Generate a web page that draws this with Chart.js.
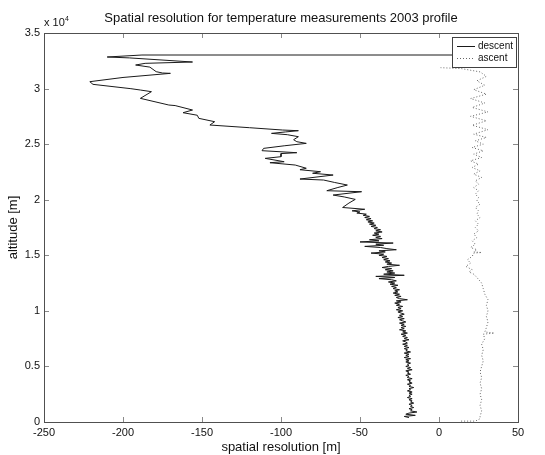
<!DOCTYPE html>
<html>
<head>
<meta charset="utf-8">
<script src="https://cdn.jsdelivr.net/npm/chart.js@4.4.0/dist/chart.umd.min.js"></script>
<style>
  html, body { margin: 0; padding: 0; background: #fff; }
  canvas { display: block; }
</style>
</head>
<body>
<canvas id="profileChart" width="545" height="455"></canvas>
<script>
// descent profile (top -> bottom)
const descentAlt = [
  33020, 33020, 32840, 32760, 32390, 32270, 32120, 31930, 31520, 31400,
  31370, 31000, 30620, 30380, 29990, 29870, 29720, 29120, 28520, 28470,
  28070, 27830, 27600, 27320, 27020, 26720, 26480, 26270, 26210, 26100,
  25970, 25850, 25670, 25400, 25220, 25070, 24850, 24620, 24410, 24230,
  24150, 23870, 23720, 23420, 23330, 23120, 22830, 22700, 22520, 22380,
  22220, 21860, 21770, 21550, 21320, 21100, 20810, 20720, 20420, 20250,
  20030, 19700, 19300, 19140,
  19000, 18900, 18800, 18700, 18600, 18500, 18400, 18300, 18200, 18100,
  18000, 17900, 17800, 17700, 17600, 17500, 17400, 17300, 17200, 17100,
  17000, 16900, 16800, 16700, 16600, 16500, 16400, 16300, 16200, 16100,
  16000, 15900, 15800, 15700, 15600, 15500, 15400, 15300, 15200, 15100,
  15000, 14900, 14800, 14700, 14600, 14500, 14400, 14300, 14200, 14100,
  14000, 13900, 13800, 13700, 13600, 13500, 13400, 13300, 13200, 13100,
  13000, 12900, 12800, 12700, 12600, 12500, 12400, 12300, 12200, 12100,
  12000, 11900, 11800, 11700, 11600, 11500, 11400, 11300, 11200, 11100,
  11000, 10900, 10800, 10700, 10600, 10500, 10400, 10300, 10200, 10100,
  10000, 9900, 9800, 9700, 9600, 9500, 9400, 9300, 9200, 9100,
  9000, 8900, 8800, 8700, 8600, 8500, 8400, 8300, 8200, 8100,
  8000, 7900, 7800, 7700, 7600, 7500, 7400, 7300, 7200, 7100,
  7000, 6900, 6800, 6700, 6600, 6500, 6400, 6300, 6200, 6100,
  6000, 5900, 5800, 5700, 5600, 5500, 5400, 5300, 5200, 5100,
  5000, 4900, 4800, 4700, 4600, 4500, 4400, 4300, 4200, 4100,
  4000, 3900, 3800, 3700, 3600, 3500, 3400, 3300, 3200, 3100,
  3000, 2900, 2800, 2700, 2600, 2500, 2400, 2300, 2200, 2100,
  2000, 1900, 1800, 1700, 1600, 1500, 1400, 1300, 1200, 1100,
  1000, 900, 800, 700, 600, 500, 400
];
const descentRes = [
  30, -188, -210, -196, -156, -186, -192, -183, -179, -175,
  -170, -200, -221, -219, -195, -189, -182, -189, -171, -167,
  -156, -162, -153, -152, -142, -145, -120, -99, -89, -97,
  -106, -96, -89, -92, -90, -84, -98, -111, -112, -90,
  -100, -100, -110, -98, -107, -91, -84, -88, -75, -80,
  -67, -88, -73, -66, -58, -64, -71, -49, -67, -60,
  -53, -57, -61, -47,
  -55, -50, -52, -46, -48, -44, -47, -43, -46, -42,
  -45, -41, -44, -40, -43, -39, -41, -37, -40, -36,
  -41, -38, -42, -37, -40, -36, -44, -38, -50, -29,
  -40, -35, -47, -37, -33, -27, -38, -34, -43, -35,
  -38, -33, -36, -32, -35, -31, -34, -30, -33, -25,
  -32, -36, -30, -34, -29, -33, -28, -35, -22, -40,
  -28, -38, -30, -27, -32, -28, -31, -26, -30, -27,
  -29, -25, -28, -26, -29, -25, -28, -24, -27, -25,
  -20, -27, -24, -28, -25, -27, -23, -26, -24, -27,
  -23, -26, -24, -22, -25, -23, -26, -22, -25, -23,
  -21, -25, -22, -24, -21, -24, -22, -25, -21, -23,
  -20, -24, -21, -23, -20, -22, -19, -23, -21, -20,
  -23, -20, -22, -19, -22, -20, -21, -18, -22, -19,
  -21, -19, -22, -18, -21, -19, -21, -18, -20, -19,
  -21, -18, -20, -17, -21, -19, -20, -18, -21, -19,
  -20, -17, -20, -18, -19, -17, -20, -18, -19, -16,
  -19, -18, -20, -17, -19, -17, -19, -18, -20, -17,
  -19, -17, -18, -16, -19, -17, -18, -16, -19, -17,
  -18, -14, -19, -21, -15, -22, -19
];

// ascent profile (bottom -> top)
const ascentAlt = [
  80, 80, 300, 500, 1000, 1500, 2000, 2500, 3000, 3500,
  4000, 4500, 5000, 5500, 6000, 6500, 7000, 7500, 7900, 8000,
  8100, 8500, 9000, 9500, 10000, 10500, 11000, 11500, 12000, 12500,
  13000, 13300, 13500, 13700, 14000, 14300, 14600, 14900, 15200, 15250,
  15300, 15500, 15700, 16000, 16300, 16600, 16900, 17200, 17500, 17800,
  18100, 18400, 18700, 19000, 19300, 19600, 19900, 20200, 20500, 20800,
  21100, 21400, 21700, 22000, 22300, 22600, 22900, 23200, 23500, 23800,
  24100, 24400, 24700, 25000, 25300, 25600, 25900, 26300, 26700, 27100,
  27500, 27900, 28300, 28700, 29100, 29500, 29900, 30300, 30700, 31100,
  31500, 31800, 31880
];
const ascentRes = [
  14, 23, 26, 26, 27, 26, 27, 26, 27, 26,
  27, 26, 27, 28, 27, 28, 27, 29, 28, 35,
  29, 30, 31, 30, 31, 30, 31, 29, 28, 27,
  24, 22, 19, 21, 17, 20, 18, 21, 22, 27,
  22, 24, 20, 23, 21, 24, 22, 25, 23, 25,
  23, 26, 24, 25, 23, 26, 24, 25, 23, 25,
  22, 25, 23, 27, 22, 26, 21, 25, 20, 27,
  22, 28, 21, 28, 23, 30, 22, 31, 21, 30,
  20, 31, 21, 29, 20, 30, 22, 29, 24, 30,
  26, 14, 1
];

const xTicks = [-250, -200, -150, -100, -50, 0, 50];
const yTicks = [0, 5000, 10000, 15000, 20000, 25000, 30000, 35000];

const FONT = '"Liberation Sans", Arial, Helvetica, sans-serif';

const descentPts = descentAlt.map((a, i) => ({ x: descentRes[i], y: a }));
const ascentPts = ascentAlt.map((a, i) => ({ x: ascentRes[i], y: a }));

// MATLAB-like frame: box, inward ticks on all sides, legend, exponent label
const matlabFrame = {
  id: 'matlabFrame',
  afterDatasetsDraw(chart) {
    const { ctx, chartArea: ca, scales } = chart;
    ctx.save();
    ctx.lineWidth = 1;
    ctx.strokeStyle = '#8a8a8a';
    ctx.beginPath();
    xTicks.forEach(v => {
      const px = Math.round(scales.x.getPixelForValue(v)) + 0.5;
      ctx.moveTo(px, ca.bottom); ctx.lineTo(px, ca.bottom - 5);
      ctx.moveTo(px, ca.top); ctx.lineTo(px, ca.top + 5);
    });
    yTicks.forEach(v => {
      const py = Math.round(scales.y.getPixelForValue(v)) + 0.5;
      ctx.moveTo(ca.left, py); ctx.lineTo(ca.left + 5, py);
      ctx.moveTo(ca.right, py); ctx.lineTo(ca.right - 5, py);
    });
    ctx.stroke();

    ctx.strokeStyle = '#505050';
    ctx.strokeRect(Math.round(ca.left) + 0.5, Math.round(ca.top) + 0.5,
      Math.round(ca.right - ca.left), Math.round(ca.bottom - ca.top));

    // legend box
    const lx = 452, ly = 37, lw = 64, lh = 30;
    ctx.fillStyle = '#fff';
    ctx.fillRect(lx, ly, lw, lh);
    ctx.strokeStyle = '#404040';
    ctx.strokeRect(lx + 0.5, ly + 0.5, lw, lh);
    chart.data.datasets.forEach((ds, i) => {
      const y = ly + 9.5 + i * 12;
      ctx.strokeStyle = ds.borderColor;
      ctx.setLineDash(ds.borderDash || []);
      ctx.beginPath();
      ctx.moveTo(lx + 5, y); ctx.lineTo(lx + 23, y);
      ctx.stroke();
      ctx.setLineDash([]);
      ctx.fillStyle = '#111';
      ctx.font = '10px ' + FONT;
      ctx.textBaseline = 'middle';
      ctx.textAlign = 'left';
      ctx.fillText(ds.label, lx + 26, y);
    });

    // exponent label above the y axis
    ctx.fillStyle = '#111';
    ctx.textBaseline = 'alphabetic';
    ctx.font = '11px ' + FONT;
    ctx.fillText('x 10', ca.left, ca.top - 7);
    ctx.font = '7px ' + FONT;
    ctx.fillText('4', ca.left + 21, ca.top - 12);
    ctx.restore();
  }
};

new Chart(document.getElementById('profileChart'), {
  type: 'scatter',
  data: {
    datasets: [
      {
        label: 'descent',
        data: descentPts,
        showLine: true,
        borderColor: '#1a1a1a',
        borderWidth: 1,
        pointRadius: 0,
        tension: 0
      },
      {
        label: 'ascent',
        data: ascentPts,
        showLine: true,
        borderColor: '#666',
        borderWidth: 1,
        borderDash: [1, 2],
        pointRadius: 0,
        tension: 0
      }
    ]
  },
  options: {
    responsive: false,
    animation: false,
    devicePixelRatio: 1,
    layout: { padding: { left: 0, right: 27, top: 0, bottom: 0 } },
    plugins: {
      legend: { display: false },
      tooltip: { enabled: false },
      title: {
        display: true,
        text: 'Spatial resolution for temperature measurements 2003 profile',
        fullSize: false,
        color: '#111',
        font: { family: FONT, size: 13, weight: 'normal' },
        padding: { top: 11, bottom: 6.4 }
      }
    },
    scales: {
      x: {
        type: 'linear',
        min: -250,
        max: 50,
        afterBuildTicks: scale => { scale.ticks = xTicks.map(v => ({ value: v })); },
        afterFit: scale => { scale.height = 33; },
        grid: { display: false, drawTicks: false },
        border: { display: false },
        ticks: {
          color: '#111',
          padding: 4,
          maxRotation: 0,
          font: { family: FONT, size: 11 }
        },
        title: {
          display: true,
          text: 'spatial resolution [m]',
          color: '#111',
          font: { family: FONT, size: 13 },
          padding: { top: 0, bottom: 0 }
        }
      },
      y: {
        type: 'linear',
        min: 0,
        max: 35000,
        afterBuildTicks: scale => { scale.ticks = yTicks.map(v => ({ value: v })); },
        afterFit: scale => { scale.width = 44; },
        grid: { display: false, drawTicks: false },
        border: { display: false },
        ticks: {
          color: '#111',
          padding: 4,
          font: { family: FONT, size: 11 },
          callback: v => String(v / 10000)
        },
        title: {
          display: true,
          text: 'altitude [m]',
          color: '#111',
          font: { family: FONT, size: 13 },
          padding: { top: 6, bottom: 0 }
        }
      }
    }
  },
  plugins: [matlabFrame]
});
</script>
</body>
</html>
